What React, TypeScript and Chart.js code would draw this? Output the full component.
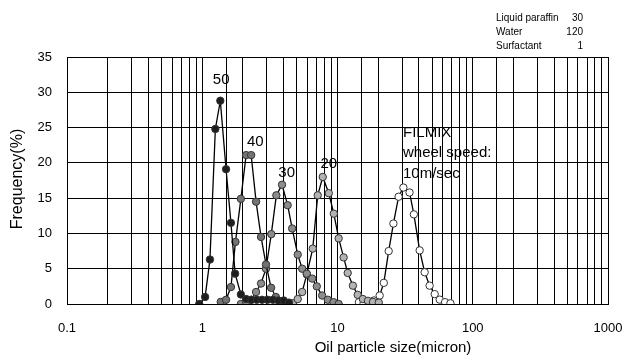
import React, { useEffect, useRef } from 'react';
import { Chart, registerables } from 'chart.js';

Chart.register(...registerables);

// ---- data ----
const size50 = [0.95, 1.05, 1.14, 1.25, 1.36, 1.5, 1.63, 1.75, 1.93, 2.11, 2.31, 2.53, 2.77, 3.04, 3.33, 3.65, 4.0, 4.38];
const freq50 = [0, 1.0, 6.3, 24.8, 28.8, 19.1, 11.5, 4.3, 1.35, 0.7, 0.6, 0.6, 0.6, 0.6, 0.6, 0.5, 0.5, 0.2];

const size40 = [1.37, 1.5, 1.63, 1.76, 1.93, 2.11, 2.3, 2.5, 2.72, 2.96, 3.23, 3.5, 3.84, 4.2];
const freq40 = [0.3, 0.6, 2.4, 8.8, 14.9, 21.1, 21.1, 14.5, 9.5, 5.6, 2.3, 1.0, 0.4, 0.1];

const size30 = [1.93, 2.11, 2.3, 2.5, 2.72, 2.96, 3.24, 3.53, 3.89, 4.28, 4.62, 5.08, 5.48, 5.93, 6.5, 7.03, 7.7, 8.48, 9.34, 10.2];
const freq30 = [0, 0.3, 0.6, 1.7, 2.9, 5.0, 9.9, 15.4, 16.9, 14.0, 10.7, 7.0, 5.0, 4.3, 3.6, 2.5, 1.2, 0.6, 0.26, 0];

const size20 = [4.67, 5.08, 5.48, 5.93, 6.56, 7.14, 7.78, 8.62, 9.39, 10.2, 11.1, 11.9, 13.0, 14.1, 15.4, 16.8, 18.3, 20.2];
const freq20 = [0.1, 0.7, 1.7, 4.2, 7.85, 15.4, 18.0, 15.7, 12.8, 9.3, 6.6, 4.4, 2.6, 1.3, 0.7, 0.45, 0.3, 0.2];

const sizeFilmix = [14.4, 15.6, 17.0, 18.6, 20.5, 22.0, 23.9, 25.9, 28.3, 30.7, 34.1, 36.7, 40.5, 44.1, 48.0, 52.3, 57.0, 62.4, 68.4];
const freqFilmix = [0.26, 0.1, 0.2, 0.5, 1.2, 3.0, 7.5, 11.4, 15.2, 16.5, 15.8, 12.7, 7.6, 4.5, 2.6, 1.4, 0.62, 0.26, 0.1];

const peakLabels = ['50', '40', '30', '20'];
const peakLabelX = [1.38, 2.47, 4.21, 8.62];
const peakLabelY = [31.8, 23.0, 18.6, 19.8];

const noteLines = ['FILMIX', 'wheel speed:', '10m/sec'];
const noteX = 30.5;
const noteY = [24.2, 21.4, 18.5];

const recipeNames = ['Liquid paraffin', 'Water', 'Surfactant'];
const recipeValues = ['30', '120', '1'];

const xTickMin = 0.1;
const xTickMax = 1000;
const yTickMin = 0;
const yTickMax = 35;
const yStep = 5;

const FONT = '"Liberation Sans", Arial, sans-serif';

const zip = (xs: number[], ys: number[]) => xs.map((x, i) => ({ x, y: ys[i] }));

const textPlugin = {
  id: 'texts',
  afterDraw(chart: any) {
    const ctx = chart.ctx as CanvasRenderingContext2D;
    const xs = chart.scales.x;
    const ys = chart.scales.y;
    ctx.save();
    ctx.fillStyle = '#000';
    ctx.textBaseline = 'middle';
    // peak labels
    ctx.font = `15px ${FONT}`;
    ctx.textAlign = 'center';
    peakLabels.forEach((t, i) => {
      ctx.fillText(t, xs.getPixelForValue(peakLabelX[i]), ys.getPixelForValue(peakLabelY[i]));
    });
    // FILMIX note
    ctx.textAlign = 'left';
    noteLines.forEach((t, i) => {
      ctx.fillText(t, xs.getPixelForValue(noteX), ys.getPixelForValue(noteY[i]));
    });
    // recipe box top-right
    ctx.font = `10px ${FONT}`;
    recipeNames.forEach((t, i) => {
      const y = 18 + i * 14;
      ctx.textAlign = 'left';
      ctx.fillText(t, 496, y);
      ctx.textAlign = 'right';
      ctx.fillText(recipeValues[i], 583, y);
    });
    // axis titles
    ctx.font = `15px ${FONT}`;
    ctx.textAlign = 'center';
    ctx.fillText('Oil particle size(micron)', 393, 348);
    ctx.font = `16px ${FONT}`;
    ctx.translate(18, 179);
    ctx.rotate(-Math.PI / 2);
    ctx.fillText('Frequency(%)', 0, 0);
    ctx.restore();
  },
};

export default function App() {
  const canvasRef = useRef<HTMLCanvasElement | null>(null);

  useEffect(() => {
    if (!canvasRef.current) return;
    const mk = (label: string, xs: number[], ys: number[], fill: string) => ({
      label,
      data: zip(xs, ys),
      borderColor: '#000',
      borderWidth: 1.3,
      backgroundColor: fill,
      pointBackgroundColor: fill,
      pointBorderColor: '#333',
      pointBorderWidth: 1,
      pointRadius: 3.7,
      tension: 0,
      fill: false,
    });
    const chart = new Chart(canvasRef.current, {
      type: 'line',
      data: {
        datasets: [
          mk('50', size50, freq50, '#1e1e1e'),
          mk('40', size40, freq40, '#737373'),
          mk('30', size30, freq30, '#8c8c8c'),
          mk('20', size20, freq20, '#b3b3b3'),
          mk('FILMIX', sizeFilmix, freqFilmix, '#ffffff'),
        ],
      },
      options: {
        responsive: false,
        animation: false,
        events: [],
        layout: { padding: { top: 57, right: 19, bottom: 0, left: 0 } },
        plugins: { legend: { display: false }, tooltip: { enabled: false } },
        scales: {
          x: {
            type: 'logarithmic',
            min: xTickMin,
            max: xTickMax,
            afterFit: (s: any) => {
              s.height = 52;
              s.paddingLeft = 0;
              s.paddingRight = 0;
            },
            grid: { color: '#000', lineWidth: 1, drawTicks: false },
            border: { color: '#000', width: 1 },
            ticks: {
              autoSkip: false,
              maxRotation: 0,
              minRotation: 0,
              padding: 17,
              color: '#000',
              font: { family: FONT, size: 13 },
              callback: (value: any) => {
                const v = Number(value);
                const l = Math.log10(v);
                if (Math.abs(l - Math.round(l)) < 1e-6) return v < 1 ? v.toFixed(1) : String(Math.round(v));
                return '';
              },
            },
          },
          y: {
            min: yTickMin,
            max: yTickMax,
            afterFit: (s: any) => {
              s.width = 67;
              s.paddingTop = 0;
              s.paddingBottom = 0;
            },
            grid: { color: '#000', lineWidth: 1, drawTicks: false },
            border: { color: '#000', width: 1 },
            ticks: {
              stepSize: yStep,
              padding: 15,
              color: '#000',
              font: { family: FONT, size: 13 },
            },
          },
        },
      },
      plugins: [textPlugin],
    });
    return () => chart.destroy();
  }, []);

  return (
    <div style={{ position: 'absolute', left: 0, top: 0, width: 627, height: 356, background: '#fff' }}>
      <canvas ref={canvasRef} width={627} height={356} />
    </div>
  );
}
